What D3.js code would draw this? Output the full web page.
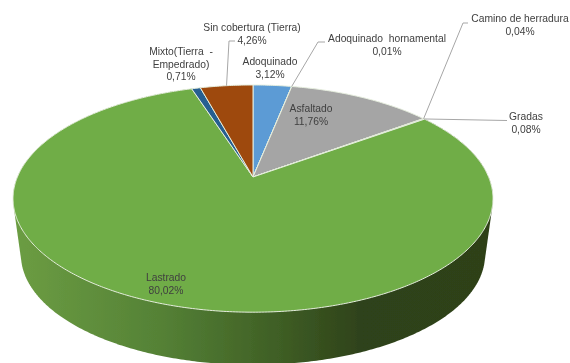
<!DOCTYPE html>
<html>
<head>
<meta charset="utf-8">
<script src="https://cdnjs.cloudflare.com/ajax/libs/d3/7.8.5/d3.min.js"></script>
<style>
    html, body { margin: 0; padding: 0; background: #fff; }
    text { font-family: "Liberation Sans", Arial, sans-serif; font-size: 10.3px; fill: #404040; white-space: pre; }
</style>
</head>
<body>
<div id="chart"></div>
<script>
// Chart data
const categories = ["Adoquinado", "Adoquinado hornamental", "Asfaltado", "Camino de herradura", "Gradas", "Lastrado", "Mixto(Tierra - Empedrado)", "Sin cobertura (Tierra)"];
const values = [3.12, 0.01, 11.76, 0.04, 0.08, 80.02, 0.71, 4.26];
const valueLabels = ["3,12%", "0,01%", "11,76%", "0,04%", "0,08%", "80,02%", "0,71%", "4,26%"];
const colors = ["#5b9bd5", "#ed7d31", "#a5a5a5", "#ffc000", "#4472c4", "#70ad47", "#255e91", "#9e480e"];

const width = 570;
const height = 363;

// Perspective of the disc: top rim and bottom rim
const topRim = { cx: 253, cy: 177, rx: 235.6, ry: 109.5, k: 0.19 };
const bottomRim = { cx: 253, cy: 234, rx: 227.8, ry: 106, k: 0.19 };

// Where each label goes, lines split by hand like in the original
const labelLayout = [
    { lines: ["Adoquinado"], x: 270, y: 65 },
    { lines: ["Adoquinado  hornamental"], x: 387, y: 42 },
    { lines: ["Asfaltado"], x: 311, y: 112 },
    { lines: ["Camino de herradura"], x: 520, y: 22 },
    { lines: ["Gradas"], x: 526, y: 120 },
    { lines: ["Lastrado"], x: 166, y: 281 },
    { lines: ["Mixto(Tierra  -", "Empedrado)"], x: 181, y: 55 },
    { lines: ["Sin cobertura (Tierra)"], x: 252, y: 31 }
];

// Leader line elbows, keyed by category index
const leaders = [
    { index: 1, at: 0, elbow: [[318, 42], [325, 42]] },
    { index: 3, at: 0.5, elbow: [[463, 23], [468, 23]] },
    { index: 4, at: 0.5, elbow: [[507, 120.5]] },
    { index: 7, at: 0.5, elbow: [[229, 41], [235, 41]] }
];

// Angle (0 = back of the pie, clockwise) to screen point
function project(rim, angle) {
    const x = Math.sin(angle);
    const y = Math.cos(angle);
    const d = 1 + rim.k * y;
    return [rim.cx + rim.rx * x / d, rim.cy - rim.ry * y / d];
}

function rimPoints(rim, a0, a1) {
    const n = Math.max(2, Math.ceil((a1 - a0) / 0.01));
    return d3.range(n + 1).map(i => project(rim, a0 + (a1 - a0) * i / n));
}

const pie = d3.pie().sort(null).startAngle(0).endAngle(2 * Math.PI);
const slices = pie(values);
const line = d3.line();

const svg = d3.select("#chart").append("svg")
    .attr("width", width)
    .attr("height", height)
    .style("display", "block");

const defs = svg.append("defs");

const wallGradient = defs.append("linearGradient")
    .attr("id", "wall")
    .attr("gradientUnits", "userSpaceOnUse")
    .attr("x1", 14).attr("x2", 492).attr("y1", 0).attr("y2", 0);
[[0, "#6c9d43"], [0.3, "#558236"], [0.55, "#3f5f25"], [0.72, "#2f431a"], [1, "#2e4119"]].forEach(s => {
    wallGradient.append("stop").attr("offset", s[0]).attr("stop-color", s[1]);
});

// The source picture is a bit soft
defs.append("filter").attr("id", "soft")
    .append("feGaussianBlur").attr("stdDeviation", 0.35);

const root = svg.append("g").attr("filter", "url(#soft)");

// Side wall, only the big slice shows from the front
const big = slices[categories.indexOf("Lastrado")];
const wallPts = rimPoints(topRim, big.startAngle, big.endAngle)
    .concat(rimPoints(bottomRim, big.startAngle, big.endAngle));
root.append("path")
    .attr("d", line(d3.polygonHull(wallPts)) + "Z")
    .attr("fill", "url(#wall)");

// Top face
root.selectAll("path.slice")
    .data(slices)
    .enter().append("path")
    .attr("class", "slice")
    .attr("d", d => line([[topRim.cx, topRim.cy]].concat(rimPoints(topRim, d.startAngle, d.endAngle))) + "Z")
    .attr("fill", (d, i) => colors[i])
    .attr("stroke", "#e6eede")
    .attr("stroke-width", 1)
    .attr("stroke-linejoin", "round");

// Leader lines
root.selectAll("path.leader")
    .data(leaders)
    .enter().append("path")
    .attr("class", "leader")
    .attr("d", d => {
        const s = slices[d.index];
        const start = project(topRim, s.startAngle + (s.endAngle - s.startAngle) * d.at);
        return line([start].concat(d.elbow));
    })
    .attr("fill", "none")
    .attr("stroke", "#a6a6a6")
    .attr("stroke-width", 1);

// Labels
const label = root.selectAll("text")
    .data(labelLayout)
    .enter().append("text")
    .attr("text-anchor", "middle")
    .attr("y", d => d.y);

label.each(function(d, i) {
    const t = d3.select(this);
    d.lines.concat(valueLabels[i]).forEach((str, j) => {
        t.append("tspan")
            .attr("x", d.x)
            .attr("dy", j ? 12.5 : 0)
            .text(str);
    });
});
</script>
</body>
</html>
